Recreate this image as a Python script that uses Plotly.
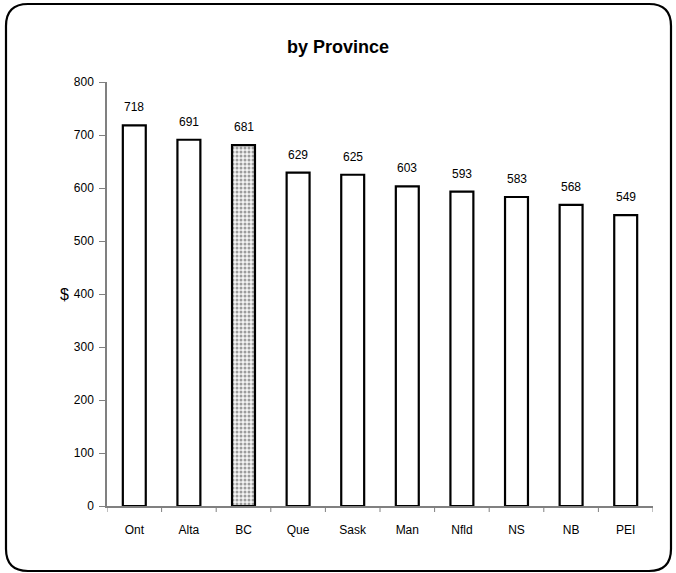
import plotly.graph_objects as go

provinces = ["Ont", "Alta", "BC", "Que", "Sask", "Man", "Nfld", "NS", "NB", "PEI"]
values = [718, 691, 681, 629, 625, 603, 593, 583, 568, 549]
highlight = "BC"
y_ticks = [0, 100, 200, 300, 400, 500, 600, 700, 800]

W, H = 676, 573
L, R, T, B = 107, 23, 82, 67
pw, ph = W - L - R, H - T - B

def px(x):
    return (x - L) / pw

def py(y):
    return (H - B - y) / ph

shapes_pattern = ["." if p == highlight else "" for p in provinces]

fig = go.Figure()
fig.add_trace(go.Bar(
    x=provinces, y=values,
    width=0.42,
    marker=dict(
        color="white",
        line=dict(color="black", width=2.2),
        pattern=dict(shape=shapes_pattern, fgcolor="#444444", bgcolor="#f4f4f4",
                     size=4, solidity=0.45),
    ),
    hoverinfo="skip",
))

annotations = []
for p, v in zip(provinces, values):
    annotations.append(dict(x=p, y=v, xref="x", yref="y", text=str(v), showarrow=False,
                            yanchor="middle", yshift=18,
                            font=dict(family="Arial, Liberation Sans", size=12, color="black")))
annotations.append(dict(x=px(58), y=py(294), xref="paper", yref="paper", text="$", showarrow=False,
                        font=dict(family="Arial, Liberation Sans", size=16, color="black")))

# rounded frame
x0, y0, x1, y1, r = 6, 4, 671, 571, 22
path = (f"M {px(x0+r)} {py(y0)} L {px(x1-r)} {py(y0)} Q {px(x1)} {py(y0)} {px(x1)} {py(y0+r)} "
        f"L {px(x1)} {py(y1-r)} Q {px(x1)} {py(y1)} {px(x1-r)} {py(y1)} "
        f"L {px(x0+r)} {py(y1)} Q {px(x0)} {py(y1)} {px(x0)} {py(y1-r)} "
        f"L {px(x0)} {py(y0+r)} Q {px(x0)} {py(y0)} {px(x0+r)} {py(y0)} Z")

fig.update_layout(
    width=W, height=H,
    margin=dict(l=L, r=R, t=T, b=B),
    paper_bgcolor="white", plot_bgcolor="white",
    showlegend=False,
    bargap=0.55,
    title=dict(text="<b>by Province</b>", x=338 / W, xref="container", xanchor="center",
               y=1 - 47 / H, yanchor="middle",
               font=dict(family="Arial, Liberation Sans", size=18, color="black")),
    xaxis=dict(
        showline=True, linecolor="#808080", linewidth=1.5,
        ticks="", showgrid=False, zeroline=False,
        tickfont=dict(family="Arial, Liberation Sans", size=12, color="black"),
        range=[-0.5, len(provinces) - 0.5],
        ticklabelstandoff=12,
        fixedrange=True,
    ),
    yaxis=dict(
        range=[0, 800], tickvals=y_ticks,
        showline=True, linecolor="#808080", linewidth=1.5,
        ticks="outside", ticklen=6, tickcolor="#808080", tickwidth=1,
        showgrid=False, zeroline=False,
        tickfont=dict(family="Arial, Liberation Sans", size=12, color="black"),
        ticklabelstandoff=3,
    ),
    annotations=annotations,
    shapes=[dict(type="path", path=path, xref="paper", yref="paper",
                 line=dict(color="black", width=2.2), layer="above")],
)

# x ticks between categories
for i in range(len(provinces) + 1):
    fig.add_shape(type="line", xref="x", yref="paper", x0=i - 0.5, x1=i - 0.5,
                  y0=0, y1=-6 / ph, line=dict(color="#808080", width=1))

fig.write_html("out.html")
